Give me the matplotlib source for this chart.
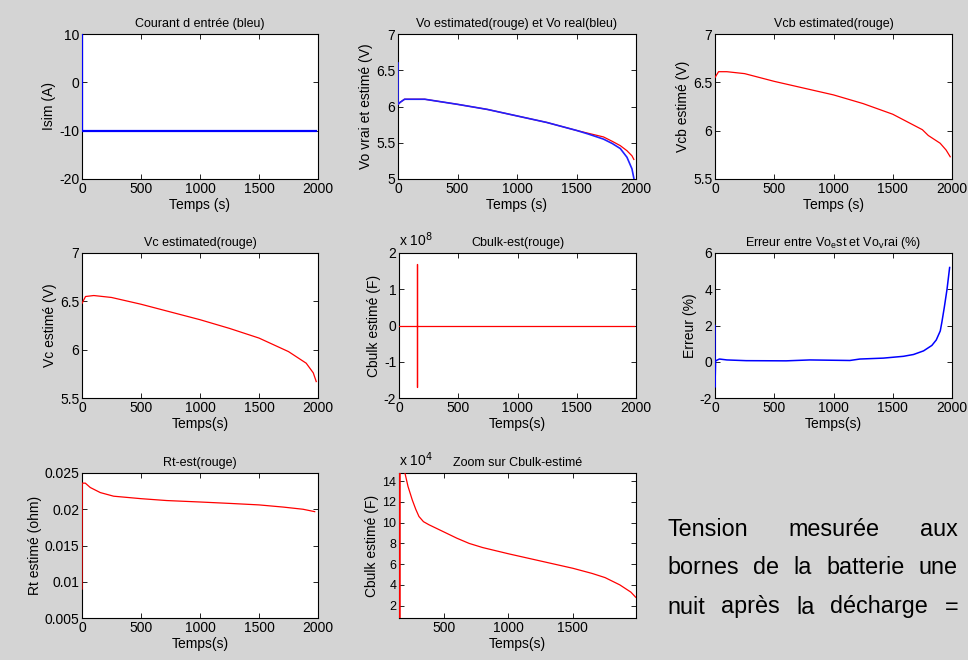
import matplotlib
matplotlib.use("Agg")
import matplotlib.pyplot as plt
from matplotlib.ticker import FuncFormatter

plt.rcParams["font.family"] = ["Liberation Sans", "DejaVu Sans"]

# --- data ---
t_cur = [0, 0, 1985]
i_cur = [10, -10, -10]

t_vo_real = [0, 0, 20, 55, 225, 500, 750, 1000, 1250, 1500, 1600, 1727, 1800, 1868, 1924, 1966, 1982]
vo_real = [6.6, 6.03, 6.06, 6.10, 6.10, 6.03, 5.96, 5.87, 5.78, 5.67, 5.62, 5.55, 5.49, 5.42, 5.30, 5.14, 5.01]
t_vo_est = [0, 20, 55, 225, 500, 750, 1000, 1250, 1500, 1600, 1727, 1800, 1868, 1924, 1966, 1982]
vo_est = [6.03, 6.06, 6.10, 6.10, 6.03, 5.96, 5.87, 5.78, 5.67, 5.63, 5.58, 5.52, 5.46, 5.39, 5.32, 5.27]

t_vcb = [0, 30, 100, 250, 500, 750, 1000, 1250, 1500, 1750, 1800, 1900, 1950, 1985]
vcb = [6.55, 6.61, 6.61, 6.59, 6.51, 6.44, 6.37, 6.28, 6.17, 6.01, 5.95, 5.87, 5.80, 5.73]

t_vc = [0, 30, 100, 250, 500, 750, 1000, 1250, 1500, 1750, 1900, 1960, 1985]
vc = [6.48, 6.55, 6.56, 6.54, 6.47, 6.39, 6.31, 6.22, 6.12, 5.98, 5.86, 5.76, 5.67]

t_cbulk = [0, 152, 152, 152, 152, 1985]
cbulk = [0, 0, 1.7e8, -1.7e8, 0, 0]

t_err = [0, 0, 5, 37, 100, 263, 600, 800, 1138, 1223, 1420, 1590, 1675, 1760, 1830, 1867, 1901, 1915, 1935, 1958, 1980]
err = [2.0, -1.4, 0.05, 0.15, 0.1, 0.06, 0.05, 0.1, 0.07, 0.15, 0.2, 0.3, 0.4, 0.6, 0.9, 1.2, 1.7, 2.2, 3.0, 4.0, 5.2]

t_rt = [0, 2, 28, 70, 155, 268, 500, 718, 1000, 1260, 1500, 1705, 1873, 1972]
rt = [0.009, 0.0236, 0.0236, 0.0230, 0.0223, 0.0218, 0.02146, 0.0212, 0.0210, 0.0208, 0.0206, 0.0203, 0.0200, 0.01967]

t_zoom = [152, 152, 160, 196, 220, 253, 280, 305, 340, 383, 500, 600, 695, 800, 1000, 1250, 1500, 1650, 1750, 1864, 1950, 1988]
c_zoom = [-1.7e8, 1.7e8, 1e6, 14.8e4, 13.5e4, 12.2e4, 11.3e4, 10.6e4, 10.1e4, 9.8e4, 9.1e4, 8.5e4, 8.0e4, 7.6e4,
          7.0e4, 6.3e4, 5.6e4, 5.1e4, 4.7e4, 4.0e4, 3.3e4, 2.8e4]

W, H = 968, 660
BG = "#d4d4d4"
fig = plt.figure(figsize=(W / 100, H / 100), dpi=100, facecolor=BG)

fmt_g = FuncFormatter(lambda v, p: "%g" % round(v, 6))


def new_ax(l, t, r, b):
    # pixel box -> figure fraction
    ax = fig.add_axes([l / W, 1 - b / H, (r - l) / W, (b - t) / H])
    ax.tick_params(direction="in", top=True, right=True, labelsize=10, length=3.5, width=0.6, pad=2)
    for s in ax.spines.values():
        s.set_linewidth(0.8)
    ax.xaxis.set_major_formatter(fmt_g)
    ax.yaxis.set_major_formatter(fmt_g)
    return ax


def style(ax, title, xlabel, ylabel):
    ax.set_title(title, fontsize=9, pad=5)
    ax.set_xlabel(xlabel, fontsize=10, labelpad=1.5)
    ax.set_ylabel(ylabel, fontsize=10, labelpad=2)


lw = 0.9
kw = dict(lw=lw, zorder=3)

ax = new_ax(82, 34, 318, 179)
ax.plot(t_cur, i_cur, color="blue", lw=1.6, zorder=3)
ax.set_xlim(0, 2000)
ax.set_ylim(-20, 10)
ax.set_yticks([-20, -10, 0, 10])
style(ax, "Courant d entrée (bleu)", "Temps (s)", "Isim (A)")

ax = new_ax(398, 34, 636, 179)
ax.plot(t_vo_est, vo_est, color="red", **kw)
ax.plot(t_vo_real, vo_real, color="#2020ff", lw=1.2, zorder=3)
ax.set_xlim(0, 2000)
ax.set_ylim(5, 7)
ax.set_yticks([5, 5.5, 6, 6.5, 7])
style(ax, "Vo estimated(rouge) et Vo real(bleu)", "Temps (s)", "Vo vrai et estimé (V)")

ax = new_ax(715, 34, 952, 179)
ax.plot(t_vcb, vcb, color="red", **kw)
ax.set_xlim(0, 2000)
ax.set_ylim(5.5, 7)
ax.set_yticks([5.5, 6, 6.5, 7])
style(ax, "Vcb estimated(rouge)", "Temps (s)", "Vcb estimé (V)")

ax = new_ax(82, 253, 318, 398)
ax.plot(t_vc, vc, color="red", **kw)
ax.set_xlim(0, 2000)
ax.set_ylim(5.5, 7)
ax.set_yticks([5.5, 6, 6.5, 7])
style(ax, "Vc estimated(rouge)", "Temps(s)", "Vc estimé (V)")

ax = new_ax(399, 253, 636, 398)
ax.plot(t_cbulk, cbulk, color="red", **kw)
ax.set_xlim(0, 2000)
ax.set_ylim(-2e8, 2e8)
ax.set_yticks([-2e8, -1e8, 0, 1e8, 2e8])
ax.yaxis.set_major_formatter(FuncFormatter(lambda v, p: "%g" % (v / 1e8)))
ax.text(0, 1.03, r"x 10$^{8}$", transform=ax.transAxes, fontsize=10, va="bottom")
style(ax, "Cbulk-est(rouge)", "Temps(s)", "Cbulk estimé (F)")

ax = new_ax(715, 253, 952, 398)
ax.plot(t_err, err, color="blue", lw=1.1, zorder=3)
ax.set_xlim(0, 2000)
ax.set_ylim(-2, 6)
ax.set_yticks([-2, 0, 2, 4, 6])
style(ax, r"Erreur entre Vo$_\mathregular{e}$st et Vo$_\mathregular{v}$rai (%)", "Temps(s)", "Erreur (%)")

ax = new_ax(82, 473, 318, 618)
ax.plot(t_rt, rt, color="red", **kw)
ax.set_xlim(0, 2000)
ax.set_ylim(0.005, 0.025)
ax.set_yticks([0.005, 0.01, 0.015, 0.02, 0.025])
style(ax, "Rt-est(rouge)", "Temps(s)", "Rt estimé (ohm)")

ax = new_ax(399, 473, 636, 618)
ax.plot(t_zoom, c_zoom, color="red", lw=lw, zorder=3)
ax.plot([152, 152], [0, 2e5], color="red", lw=1.8, zorder=3)
ax.set_xlim(150, 1990)
ax.set_ylim(0.8e4, 14.8e4)
ax.set_xticks([500, 1000, 1500])
ax.set_yticks([2e4, 4e4, 6e4, 8e4, 10e4, 12e4, 14e4])
ax.yaxis.set_major_formatter(FuncFormatter(lambda v, p: "%g" % (v / 1e4)))
ax.tick_params(axis="y", labelsize=9)
ax.text(0, 1.03, r"x 10$^{4}$", transform=ax.transAxes, fontsize=10, va="bottom")
style(ax, "Zoom sur Cbulk-estimé", "Temps(s)", "Cbulk estimé (F)")

# justified note on the right: equal gaps between words, from x0 to x1
note_lines = ["Tension mesurée aux",
              "bornes de la batterie une",
              "nuit après la décharge ="]
x0, x1 = 667, 958
renderer = fig.canvas.get_renderer()
for line, y in zip(note_lines, [529, 568, 607]):
    words = line.split()
    texts = [fig.text(0, 1 - y / H, w, fontsize=16.8, ha="left", va="center") for w in words]
    widths = [t.get_window_extent(renderer).width for t in texts]
    gap = (x1 - x0 - sum(widths)) / (len(words) - 1)
    x = x0
    for t, w in zip(texts, widths):
        t.set_x(x / W)
        x += w + gap

fig.savefig("out.png", dpi=100, facecolor=BG)
